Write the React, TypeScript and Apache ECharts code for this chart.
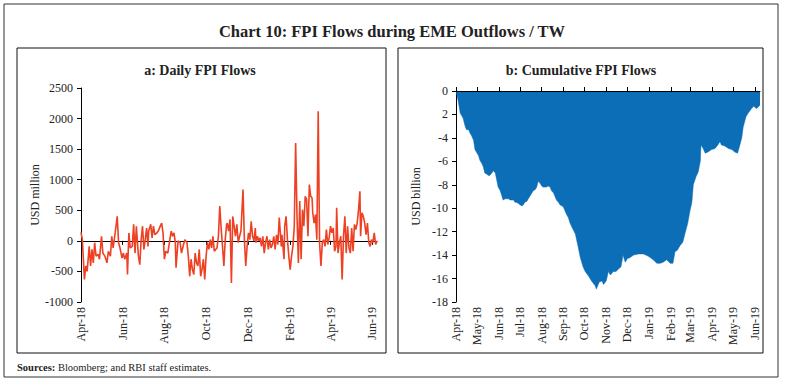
import React, { useEffect, useRef } from "react";
import * as echarts from "echarts";

// Daily FPI flows (USD million): [day offset from 1 Apr 2018, value]
const dailyFlows: [number, number][] = [
  [0, 140], [2, 20], [5, -630], [7, -410], [9, -500], [12, -90], [14, -410], [16, -140], [18, -360], [20, -30],
  [22, -250], [25, -220], [27, -300], [30, 75], [32, -200], [35, -250], [38, -360], [40, -170], [43, -250], [45, 75],
  [47, -115], [50, 130], [53, 400], [55, -30], [57, -115], [60, -280], [62, -200], [64, -300], [67, -200], [68, -550],
  [70, 130], [72, -115], [75, -90], [77, 270], [79, -200], [81, 240], [84, -250], [86, -390], [88, 20], [90, 240],
  [92, -140], [94, 20], [96, 210], [98, -90], [99, 160], [102, 270], [104, 50], [106, 240], [108, 100], [111, 130],
  [113, 160], [116, 240], [118, 290], [120, 130], [122, -300], [124, -170], [127, -200], [130, 20], [132, 160], [134, 75],
  [136, 130], [138, -30], [139, -440], [142, 0], [145, -30], [147, -200], [150, -60], [152, 20], [155, -30], [157, -250],
  [159, -580], [161, -300], [163, -470], [165, -550], [167, -200], [169, -360], [171, -410], [173, -140], [175, -580], [177, -470],
  [179, -300], [181, -630], [183, -250], [185, -30], [187, -140], [189, 20], [191, -115], [193, 75], [195, -170], [197, -140],
  [199, -115], [201, 75], [203, 570], [205, 210], [207, -90], [209, -410], [211, 20], [213, 270], [214, 290], [216, 160],
  [218, 350], [220, -690], [222, 400], [224, 240], [226, 75], [228, 270], [230, -30], [232, 75], [234, 160], [237, 840],
  [239, 20], [241, -410], [243, -90], [245, 130], [247, 20], [249, 320], [251, 75], [253, 0], [255, 210], [256, -30],
  [258, 75], [260, 0], [262, 50], [264, -90], [266, 75], [268, -200], [270, -30], [272, 75], [274, -140], [276, 20],
  [278, -115], [280, -60], [282, 75], [284, -140], [286, 100], [288, -60], [290, 380], [293, -90], [294, 100], [297, -300],
  [298, 240], [300, 400], [302, 20], [304, -250], [306, -470], [308, -250], [310, -90], [312, 240], [314, 1600], [316, 400],
  [318, -360], [320, 650], [322, -300], [324, 510], [326, 240], [328, 730], [330, 680], [332, 75], [334, 920], [336, 730],
  [338, 700], [339, 460], [341, 290], [343, 430], [345, 20], [347, 2120], [349, -30], [351, -410], [353, -30], [355, 20],
  [357, -90], [359, 185], [361, -60], [363, 50], [365, 240], [367, 130], [369, 210], [371, -170], [373, -90], [374, 540],
  [376, -200], [378, -30], [380, 75], [382, -630], [384, 75], [386, 400], [388, -200], [390, 240], [392, -115], [394, -200],
  [396, 210], [398, -170], [400, 270], [402, 185], [404, 290], [406, 510], [408, 810], [409, 75], [411, 460], [413, 400],
  [415, 290], [417, 100], [419, 290], [421, -30], [423, -90], [425, 20], [427, -30], [429, 130], [431, -60], [433, 0],
];

// Cumulative FPI flows (USD billion): [day offset from 1 Apr 2018, value]
const cumulativeFlows: [number, number][] = [
  [0, 0], [3, -0.8], [6, -1.9], [8, -2.1], [10, -2.3], [13, -3.0], [15, -3.3], [18, -3.3], [20, -3.6], [22, -3.8],
  [25, -4.2], [27, -5.0], [29, -5.2], [32, -5.5], [34, -5.9], [37, -6.2], [39, -6.5], [41, -7.0], [44, -7.1], [46, -7.2],
  [48, -7.2], [51, -7.0], [53, -6.8], [56, -7.0], [58, -7.6], [60, -8.2], [63, -8.5], [65, -8.9], [67, -9.3], [70, -9.2],
  [72, -9.2], [75, -9.2], [77, -9.3], [79, -9.3], [82, -9.3], [84, -9.5], [86, -9.5], [89, -9.6], [91, -9.7], [94, -9.8],
  [96, -9.7], [98, -9.5], [101, -9.4], [103, -9.2], [105, -9.0], [108, -8.7], [110, -8.5], [113, -8.4], [115, -8.2], [117, -7.7],
  [120, -7.9], [122, -8.1], [124, -8.2], [127, -8.2], [129, -8.2], [131, -8.1], [134, -8.2], [136, -8.5], [139, -8.7], [141, -9.0],
  [143, -9.3], [146, -9.5], [148, -9.7], [151, -9.8], [153, -9.9], [155, -10.2], [158, -10.6], [160, -10.8], [162, -11.2], [165, -11.6],
  [170, -12.2], [174, -13.3], [177, -14.2], [181, -15.0], [184, -15.4], [189, -15.8], [193, -16.2], [198, -16.6], [200, -16.9], [204, -16.3],
  [208, -16.2], [210, -16.5], [214, -16.2], [217, -15.4], [220, -15.7], [224, -15.4], [228, -15.4], [231, -15.2], [235, -15.0], [238, -14.0],
  [241, -14.6], [244, -14.3], [248, -14.2], [253, -14.0], [260, -13.9], [267, -13.9], [274, -14.1], [281, -14.4], [286, -14.7], [291, -14.7],
  [295, -14.6], [300, -14.4], [305, -14.7], [309, -14.7], [312, -13.7], [315, -13.6], [319, -13.2], [323, -12.9], [326, -12.2], [330, -11.3],
  [333, -10.3], [336, -9.5], [338, -8.0], [342, -7.3], [345, -6.9], [348, -6.0], [349, -4.6], [352, -4.9], [355, -5.3], [359, -5.2],
  [364, -5.0], [369, -4.9], [373, -4.6], [376, -4.3], [378, -4.6], [383, -4.7], [388, -4.9], [393, -5.0], [397, -5.2], [401, -5.3],
  [403, -4.9], [407, -4.0], [409, -3.1], [413, -2.2], [416, -1.9], [421, -1.5], [424, -1.3], [428, -1.5], [430, -1.4], [433, -1.2],
];

const leftTickLabels = ["Apr-18", "Jun-18", "Aug-18", "Oct-18", "Dec-18", "Feb-19", "Apr-19", "Jun-19"];
const rightTickLabels = ["Apr-18", "May-18", "Jun-18", "Jul-18", "Aug-18", "Sep-18", "Oct-18", "Nov-18", "Dec-18", "Jan-19", "Feb-19", "Mar-19", "Apr-19", "May-19", "Jun-19"];
const leftYTicks = { min: -1000, max: 2500, interval: 500 };
const rightYTicks = { min: -18, max: 0, interval: 2 };

const START = Date.UTC(2018, 3, 1);
const DAY_COUNT = 434;
const MONTHS = ["Jan", "Feb", "Mar", "Apr", "May", "Jun", "Jul", "Aug", "Sep", "Oct", "Nov", "Dec"];

const dayCategories: string[] = [];
for (let i = 0; i < DAY_COUNT; i++) {
  const d = new Date(START + i * 86400000);
  const day = d.getUTCDate();
  dayCategories.push(
    (day === 1 ? "" : "d") + MONTHS[d.getUTCMonth()] + "-" + String(d.getUTCFullYear()).slice(2)
  );
}

const FONT = "Liberation Serif";
const TXT = "#222";

function showFor(labels: string[]) {
  return (_i: number, v: string) => labels.indexOf(v) >= 0;
}

export default function App() {
  const ref = useRef<HTMLDivElement>(null);
  useEffect(() => {
    if (!ref.current) return;
    const chart = echarts.init(ref.current, null, { renderer: "svg" });
    const labelStyle = { fontFamily: FONT, fontSize: 12, color: TXT };
    chart.setOption({
      animation: false,
      backgroundColor: "#fff",
      textStyle: { fontFamily: FONT },
      grid: [
        { left: 81, top: 88, width: 296, height: 214, containLabel: false },
        { left: 456, top: 91, width: 304, height: 211, containLabel: false },
      ],
      xAxis: [
        {
          type: "category", gridIndex: 0, data: dayCategories, boundaryGap: false,
          axisLine: { onZero: true, lineStyle: { color: "#000", width: 1 } },
          axisTick: { show: true, interval: showFor(leftTickLabels), length: 4, lineStyle: { color: "#000" } },
          axisLabel: { show: false }, splitLine: { show: false },
        },
        {
          type: "category", gridIndex: 0, data: dayCategories, boundaryGap: false, position: "bottom",
          axisLine: { show: false, onZero: false }, axisTick: { show: false },
          axisLabel: { show: true, rotate: 90, interval: showFor(leftTickLabels), margin: 5, ...labelStyle },
          splitLine: { show: false },
        },
        {
          type: "category", gridIndex: 1, data: dayCategories, boundaryGap: false, z: 5,
          axisLine: { onZero: true, lineStyle: { color: "#000", width: 1 } },
          axisTick: { show: true, inside: true, interval: showFor(rightTickLabels), length: 4, lineStyle: { color: "#000" } },
          axisLabel: { show: false }, splitLine: { show: false },
        },
        {
          type: "category", gridIndex: 1, data: dayCategories, boundaryGap: false, position: "bottom",
          axisLine: { show: false, onZero: false }, axisTick: { show: false },
          axisLabel: { show: true, rotate: 90, interval: showFor(rightTickLabels), margin: 5, ...labelStyle },
          splitLine: { show: false },
        },
      ],
      yAxis: [
        {
          type: "value", gridIndex: 0, ...leftYTicks,
          axisLine: { show: true, lineStyle: { color: "#000" } },
          axisTick: { show: true, length: 4, lineStyle: { color: "#000" } },
          axisLabel: { ...labelStyle, margin: 8, formatter: (v: number) => String(v) },
          splitLine: { show: false },
          name: "USD million", nameLocation: "middle", nameGap: 40,
          nameTextStyle: { ...labelStyle },
        },
        {
          type: "value", gridIndex: 1, ...rightYTicks,
          axisLine: { show: true, lineStyle: { color: "#000" } },
          axisTick: { show: true, length: 4, lineStyle: { color: "#000" } },
          axisLabel: { ...labelStyle, margin: 8, formatter: (v: number) => (v === -2 ? "2" : String(v)) },
          splitLine: { show: false },
          name: "USD billion", nameLocation: "middle", nameGap: 34,
          nameTextStyle: { ...labelStyle },
        },
      ],
      series: [
        {
          type: "line", xAxisIndex: 0, yAxisIndex: 0, data: dailyFlows,
          showSymbol: false, symbol: "none",
          lineStyle: { color: "#EE4023", width: 1.6 },
        },
        {
          type: "line", xAxisIndex: 2, yAxisIndex: 1, data: cumulativeFlows,
          showSymbol: false, symbol: "none",
          lineStyle: { color: "#0B6EB6", width: 0.5 },
          areaStyle: { color: "#0B6EB6", opacity: 1 },
        },
      ],
      graphic: [
        { type: "rect", shape: { x: 4, y: 4, width: 774, height: 373 }, style: { fill: "none", stroke: "#333", lineWidth: 1 }, silent: true },
        { type: "rect", shape: { x: 17, y: 48, width: 369, height: 305 }, style: { fill: "none", stroke: "#111", lineWidth: 1 }, silent: true },
        { type: "rect", shape: { x: 398, y: 48, width: 365, height: 305 }, style: { fill: "none", stroke: "#111", lineWidth: 1 }, silent: true },
        { type: "text", x: 392, y: 31, style: { text: "Chart 10: FPI Flows during EME Outflows / TW", fontFamily: FONT, fontSize: 16.5, fontWeight: "bold", fill: TXT, align: "center", verticalAlign: "middle" } },
        { type: "text", x: 200, y: 70, style: { text: "a: Daily FPI Flows", fontFamily: FONT, fontSize: 14, fontWeight: "bold", fill: TXT, align: "center", verticalAlign: "middle" } },
        { type: "text", x: 581, y: 70, style: { text: "b: Cumulative FPI Flows", fontFamily: FONT, fontSize: 14, fontWeight: "bold", fill: TXT, align: "center", verticalAlign: "middle" } },
        {
          type: "text", x: 17, y: 367,
          style: {
            text: "{b|Sources:} Bloomberg; and RBI staff estimates.",
            fontFamily: FONT, fontSize: 10.5, fill: TXT, align: "left", verticalAlign: "middle",
            rich: { b: { fontFamily: FONT, fontSize: 10.5, fontWeight: "bold", fill: TXT } },
          },
        },
      ],
    });
    return () => chart.dispose();
  }, []);
  return <div ref={ref} style={{ position: "fixed", left: 0, top: 0, width: 785, height: 382 }} />;
}
